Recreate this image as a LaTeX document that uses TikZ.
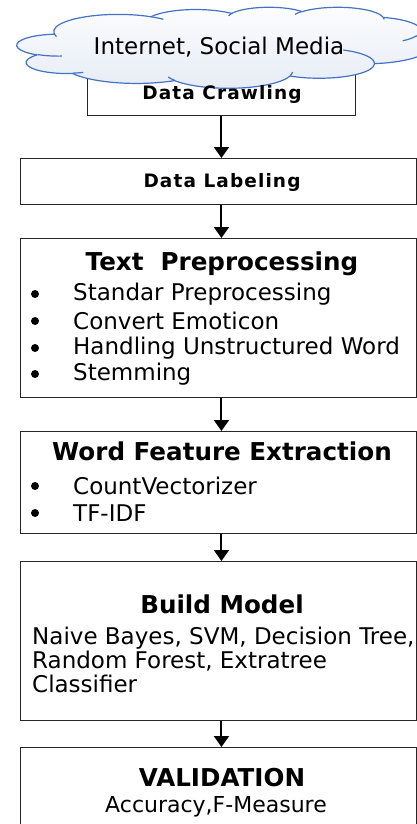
\documentclass[tikz,border=0pt]{standalone}
\usepackage{fontspec}
\setmainfont{DejaVu Sans}
\usetikzlibrary{arrows.meta}
\definecolor{cloudblue}{HTML}{4472C4}
\definecolor{cloudtop}{HTML}{FCFDFE}
\definecolor{cloudbottom}{HTML}{E6EBF5}

% parametric start/end angles of an elliptic arc given by visual start angle and sweep
\newcommand\cloudarcangles[4]{% #1 x radius, #2 y radius, #3 start, #4 sweep
  \pgfmathsetmacro\cloudA{atan2(#1*sin(#3), #2*cos(#3))}%
  \pgfmathsetmacro\cloudB{atan2(#1*sin(#3+#4), #2*cos(#3+#4))}%
  \pgfmathsetmacro\cloudB{(#4>0) ? ((\cloudB<\cloudA) ? \cloudB+360 : \cloudB) : ((\cloudB>\cloudA) ? \cloudB-360 : \cloudB)}%
  \xdef\cloudta{\cloudA}\xdef\cloudtb{\cloudB}}

\tikzset{
  stage/.style={draw=black!85, line width=0.9pt, fill=white, anchor=north west, inner sep=0pt},
  flow/.style={line width=2pt, -{Triangle[width=15pt,length=11pt]}},
  title/.style={font=\fontsize{24.6}{29}\selectfont\bfseries, inner sep=0pt},
  small/.style={font=\fontsize{18.5}{22}\selectfont\bfseries\addfontfeature{LetterSpace=6}, inner sep=0pt},
  body/.style={font=\fontsize{23}{27}\selectfont, inner sep=0pt, anchor=west},
  bullet/.style={circle, fill=black, inner sep=0pt, minimum size=8pt},
  cloudline/.style={draw=cloudblue, line width=1.2pt, line join=round},
}
\begin{document}
\begin{tikzpicture}[x=1pt, y=-1pt]
\useasboundingbox (0,0) rectangle (417,824);

% stage boxes
\node[stage, minimum width=268pt, minimum height=50pt] (crawl) at (87,65) {};
\node[stage, minimum width=396pt, minimum height=46pt] (lab) at (20,158) {};
\node[stage, minimum width=396pt, minimum height=159pt] (pre) at (20,238) {};
\node[stage, minimum width=396pt, minimum height=102pt] (feat) at (20,431) {};
\node[stage, minimum width=396pt, minimum height=159pt] (model) at (20,561) {};
\node[stage, minimum width=396pt, minimum height=120pt] (valid) at (20,747) {};

% data source cloud, outline in a 432 x 432 frame
\begin{scope}[shift={(17,7)}, x=413pt/432, y=-81pt/432]
  \shadedraw[cloudline, top color=cloudtop, bottom color=cloudbottom] (39.00,143.70)
    foreach \w/\h/\s/\e in {
      67.53/91.90/-190.4875/123.7805, 53.33/72.67/-144.1024/89.9452,
      43.65/59.45/-145.8079/99.7230,  48.57/65.95/-130.9861/117.2417,
      53.33/72.73/-78.7089/109.0269,  67.75/92.20/-46.2673/130.2690,
      57.85/78.67/0.6250/114.0333,    67.52/92.15/22.4516/115.1726,
      77.20/105.43/66.2426/75.7110,   43.60/59.18/-274.9421/146.7356,
      43.45/59.45/-246.8285/152.5189}
    { \pgfextra{\cloudarcangles{\w}{\h}{\s}{\e}}
      arc[start angle=\cloudta, end angle=\cloudtb, x radius=\w, y radius=\h] }
    -- cycle;
  % inner creases of the puffs
  \foreach \px/\py/\w/\h/\s/\e in {
      46.93/261.77/43.45/59.45/86.7420/26.4295,
      69.28/348.99/43.60/59.18/73.6105/11.4475,
      164.78/390.90/67.52/92.15/137.6242/14.0811,
      288.27/347.51/67.52/92.15/6.4533/15.9984,
      341.29/229.54/57.85/78.67/-70.2924/70.9174,
      417.98/153.54/53.33/72.73/30.3180/27.7515,
      383.24/54.26/48.57/65.95/-13.7443/14.8589,
      290.78/39.52/48.57/65.95/-149.1815/18.1954,
      221.41/47.20/43.65/59.45/-163.4943/17.6864,
      140.00/51.92/67.53/91.90/-66.7070/12.3194,
      41.27/157.89/67.53/91.90/157.6544/11.8582}
  { \cloudarcangles{\w}{\h}{\s}{\e}
    \draw[cloudline] (\px,\py) arc[start angle=\cloudta, end angle=\cloudtb, x radius=\w, y radius=\h]; }
\end{scope}
\coordinate (src) at (219,47);
\node[font=\fontsize{23}{26}\selectfont, inner sep=0pt] (srct) at (src) {Internet, Social Media};

% box texts
\node[small] (crawlt) at (222,94) {Data Crawling};
\node[small] (labt) at (222,182) {Data Labeling};

\node[title] (pret) at (222,264) {Text\ \ Preprocessing};
\foreach \y/\t [count=\i] in {294/Standar Preprocessing,321/Convert Emoticon,348/Handling Unstructured Word,374/Stemming}{
  \node[bullet] (preb\i) at (35,\y) {};
  \node[body] (prel\i) at (73,\y) {\t};
}

\node[title] (featt) at (222,451) {Word Feature Extraction};
\foreach \y/\t [count=\i] in {486/CountVectorizer,513/TF-IDF}{
  \node[bullet] (featb\i) at (35,\y) {};
  \node[body] (featl\i) at (73,\y) {\t};
}

\node[title] (modelt) at (222,604) {Build Model};
\node[body] (modell1) at (32,638) {Naive Bayes, SVM, Decision Tree,};
\node[body] (modell2) at (32,661) {Random Forest, Extratree};
\node[body] (modell3) at (32,684) {Classifier};

\node[title] (validt) at (222,778) {VALIDATION};
\node[font=\fontsize{22}{26}\selectfont, inner sep=0pt] (validl) at (216,807) {Accuracy,F-Measure};

% flow arrows
\draw[flow] (crawl.south) -- (crawl.south |- lab.north);
\draw[flow] (crawl.south |- lab.south) -- (crawl.south |- pre.north);
\draw[flow] (crawl.south |- pre.south) -- (crawl.south |- feat.north);
\draw[flow] (crawl.south |- feat.south) -- (crawl.south |- model.north);
\draw[flow] (crawl.south |- model.south) -- (crawl.south |- valid.north);
\end{tikzpicture}
\end{document}
